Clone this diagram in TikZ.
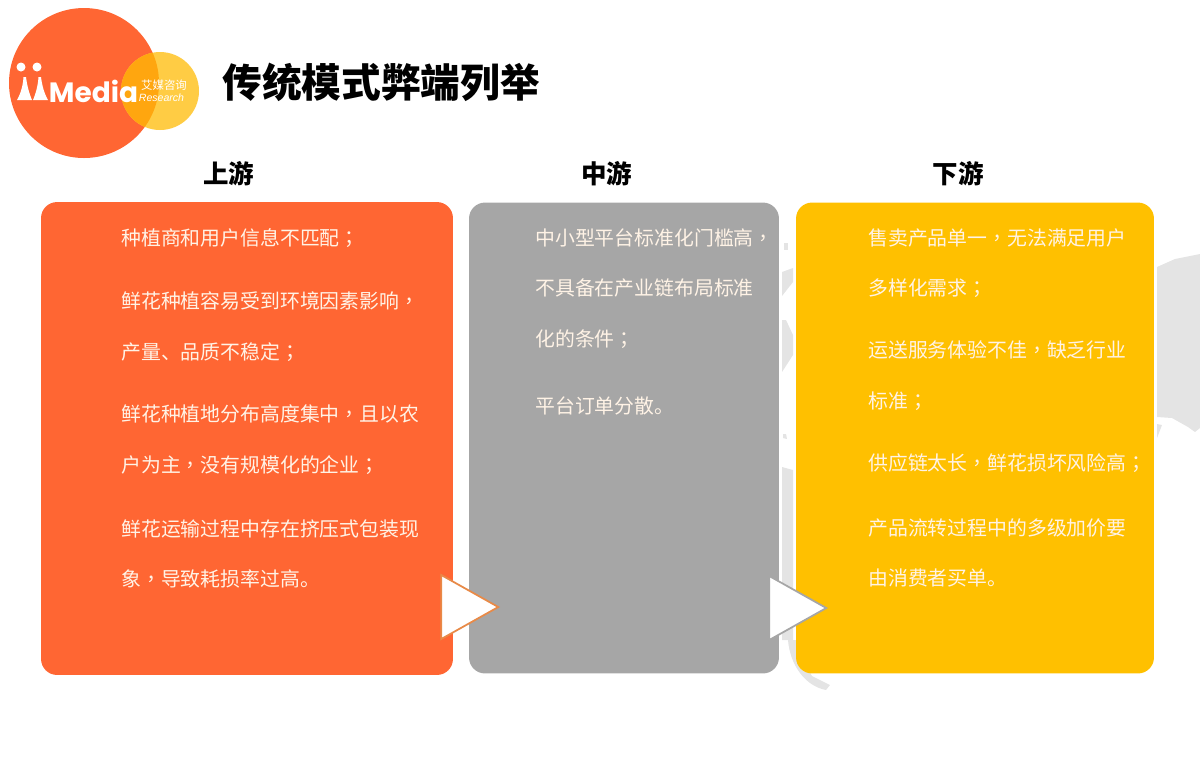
\documentclass[tikz,border=0pt]{standalone}
\usepackage{fontspec}
\setmainfont{Noto Sans CJK SC}
\newfontfamily\tcfont{Noto Sans CJK TC}
\newfontfamily\logofont{Poppins}
\newfontfamily\latinfont{Liberation Sans}
\usepackage{xcolor}
\definecolor{orangec}{HTML}{FF6633}
\definecolor{greyc}{HTML}{A6A6A6}
\definecolor{yellowc}{HTML}{FFC000}
\definecolor{sunc}{HTML}{FFCC44}
\definecolor{mixc}{HTML}{FFA60F}
\definecolor{mapc}{HTML}{E4E4E4}
\definecolor{textc}{HTML}{FFF3E6}
\definecolor{edgeo}{HTML}{E88A48}
\usetikzlibrary{positioning,shapes.geometric}
\newcommand{\midcomma}{{\tcfont ，}}
\newcommand{\midsemi}{{\tcfont ；}}
\tikzset{
  card/.style={rectangle,rounded corners=0.32cm,inner sep=0pt,minimum height=9.42cm},
  head/.style={font=\fontsize{14.5}{17}\selectfont\bfseries,text=black,inner sep=0pt},
  body/.style={anchor=north west,align=left,inner sep=0pt,text=textc,font=\fontsize{11.3}{28.9}\selectfont},
  next/.style={isosceles triangle,isosceles triangle apex angle=60,isosceles triangle stretches,fill=white,line width=1pt,
    minimum width=1.28cm,minimum height=1.14cm,inner sep=0pt},
  map/.style={fill=mapc,draw=none},
}
\begin{document}
\begin{tikzpicture}[x=0.02cm,y=-0.02cm]
    \useasboundingbox (0,0) rectangle (1200,779);

    % map behind the cards
    \path[map] (1157,267) -- (1175,259) -- (1200,254) -- (1200,428) -- (1195,432) -- (1188,427) -- (1172,418) -- (1157,417) -- cycle;
    \path[map] (1157,424) -- (1162,425) -- (1157,438) -- cycle;
    \path[map] (784,243) -- (788,243) -- (788,250) -- (784,250) -- cycle;
    \path[map] (782,272) -- (793,268) -- (793,282) -- (782,296) -- cycle;
    \path[map] (782,320) -- (786,320) -- (793,335) -- (793,355) -- (782,372) -- cycle;
    \path[map] (783,434) -- (786,434) -- (787,439) -- (783,438) -- cycle;
    \path[map] (782,467) -- (793,470) -- (793,640) -- (782,640) -- cycle;
    \path[map] (788,640) .. controls (790,665) and (805,686) .. (826,690) -- (830,685) -- (812,676) -- (796,650) -- (796,640) -- cycle;

    % the logo
    \fill[orangec] (84,83) circle (75);
    \fill[sunc] (160,91) circle (39);
    \begin{scope}
      \clip (84,83) circle (75);
      \fill[mixc] (160,91) circle (39);
    \end{scope}
    \fill[white] (21,67) circle (4.5) (37,67) circle (4.5);
    \fill[white] (17,100) .. controls (21,93) and (23,85) .. (23.5,77) -- (26,77) .. controls (27,85) and (29,93) .. (32,100) -- cycle;
    \fill[white] (33,100) .. controls (36,93) and (38,85) .. (38.5,77) -- (41,77) .. controls (42,85) and (44,93) .. (48,100) -- cycle;
    \node[text=white,inner sep=0pt,font=\logofont\fontsize{15.9}{17}\selectfont\bfseries] (media) at (93.5,91) {Media};
    \node[text=white,inner sep=0pt,font=\fontsize{6.5}{7}\selectfont] (cnname) at (164,85.5) {艾媒咨询};
    \node[text=white,inner sep=0pt,font=\latinfont\fontsize{6}{6.5}\selectfont\itshape] (enname) at (161.5,97.5) {Research};

    \node[anchor=west,inner sep=0pt,font=\fontsize{22.6}{26}\selectfont\bfseries] (title) at (222,82) {传统模式弊端列举};

    \node[head] (up) at (228.5,174) {上游};
    \node[head] (mid) at (606.5,174) {中游};
    \node[head] (down) at (958,174) {下游};

    \node[card,fill=orangec,minimum width=8.24cm,minimum height=9.46cm] (upcard) at (247,438.5) {};
    \node[card,fill=greyc,minimum width=6.2cm] (midcard) at (624,438) {};
    \node[card,fill=yellowc,minimum width=7.16cm] (downcard) at (975,438) {};

    \node[body] (uptext) at (121,228) {种植商和用户信息不匹配\midsemi\\[7pt]
      鲜花种植容易受到环境因素影响\midcomma\\
      产量、品质不稳定\midsemi\\[6.8pt]
      鲜花种植地分布高度集中\midcomma 且以农\\
      户为主\midcomma 没有规模化的企业\midsemi\\[7.2pt]
      鲜花运输过程中存在挤压式包装现\\
      象\midcomma 导致耗损率过高。};
    \node[body] (midtext) at (535,228) {中小型平台标准化门槛高\midcomma\\
      不具备在产业链布局标准\\
      化的条件\midsemi\\[9pt]
      平台订单分散。};
    \node[body] (downtext) at (868,228) {售卖产品单一\midcomma 无法满足用户\\
      多样化需求\midsemi\\[6.2pt]
      运送服务体验不佳\midcomma 缺乏行业\\
      标准\midsemi\\[6.2pt]
      供应链太长\midcomma 鲜花损坏风险高\midsemi\\[8.2pt]
      产品流转过程中的多级加价要\\
      由消费者买单。};

    \node[next,draw=edgeo] (upnext) at (460,607) {};
    \node[next,draw=greyc] (midnext) at (788,608) {};
\end{tikzpicture}
\end{document}
